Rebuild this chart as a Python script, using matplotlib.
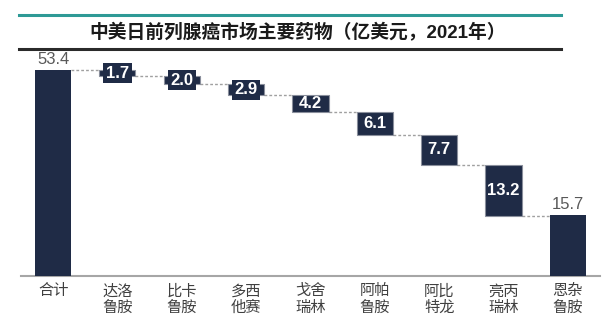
import numpy as np
import matplotlib.pyplot as plt
from matplotlib.lines import Line2D

plt.rcParams['font.family'] = ['Liberation Sans', 'Noto Sans CJK SC', 'DejaVu Sans']

# data
title = "中美日前列腺癌市场主要药物（亿美元，2021年）"
labels = ["合计", "达洛\n鲁胺", "比卡\n鲁胺", "多西\n他赛", "戈舍\n瑞林",
          "阿帕\n鲁胺", "阿比\n特龙", "亮丙\n瑞林", "恩杂\n鲁胺"]
total = 53.4
drugs = [1.7, 2.0, 2.9, 4.2, 6.1, 7.7, 13.2, 15.7]

navy = "#1f2b46"
grey_txt = "#595959"

fig = plt.figure(figsize=(6.1, 3.31), dpi=100)
ax = fig.add_axes([0.0344, 0.1662, 0.9492, 0.6647])

x = np.arange(len(labels))
w = 0.56

# total bar
ax.bar(x[0], total, width=w, color=navy, zorder=3)
ax.text(x[0], total + 0.8, f"{total:.1f}", ha='center', va='bottom',
        fontsize=12, color=grey_txt)

top = total
prev_right = x[0] + w / 2
for i, v in enumerate(drugs):
    xi = x[i + 1]
    bottom = max(top - v, 0)
    last = i == len(drugs) - 1
    ax.plot([prev_right, xi - w / 2], [top, top], ls=(0, (2, 1.5)),
            color="#a0a0a0", lw=1.0, zorder=2)
    if last:
        ax.bar(xi, v, width=w, color=navy, zorder=3)
        ax.text(xi, v + 0.8, f"{v:.1f}", ha='center', va='bottom',
                fontsize=12, color=grey_txt)
    else:
        ax.bar(xi, top - bottom, bottom=bottom, width=w, color=navy,
               edgecolor="#8a8f9c", linewidth=0.8, zorder=3)
        mid = (top + bottom) / 2
        if v < 3:
            ax.text(xi, mid, f"{v:.1f}", ha='center', va='center', fontsize=12,
                    color='white', fontweight='bold', zorder=4,
                    bbox=dict(boxstyle='square,pad=0.15', fc=navy, ec='none'))
        else:
            ax.text(xi, mid, f"{v:.1f}", ha='center', va='center', fontsize=12,
                    color='white', fontweight='bold', zorder=4)
    prev_right = xi + w / 2
    top = bottom

ax.set_xlim(-0.5, 8.5)
ax.set_ylim(0, 57)
ax.set_yticks([])
ax.set_xticks(x)
ax.set_xticklabels(labels, fontsize=11, color="#404040", linespacing=1.2)
ax.tick_params(axis='x', length=0, pad=6)
for s in ['top', 'right', 'left']:
    ax.spines[s].set_visible(False)
ax.spines['bottom'].set_color("#a6a6a6")
ax.spines['bottom'].set_linewidth(1.5)

# header lines and title
fig.add_artist(Line2D([19 / 610, 561 / 610], [1 - 15 / 331] * 2, color="#2e9a96", lw=2.2))
fig.add_artist(Line2D([19 / 610, 561 / 610], [1 - 49 / 331] * 2, color="#2a2a2a", lw=2.2))
fig.text(298 / 610, 1 - 33 / 331, title, ha='center', va='center',
         fontsize=13.5, fontweight='bold', color="#1a1a1a")

fig.savefig("out.png", dpi=100)
